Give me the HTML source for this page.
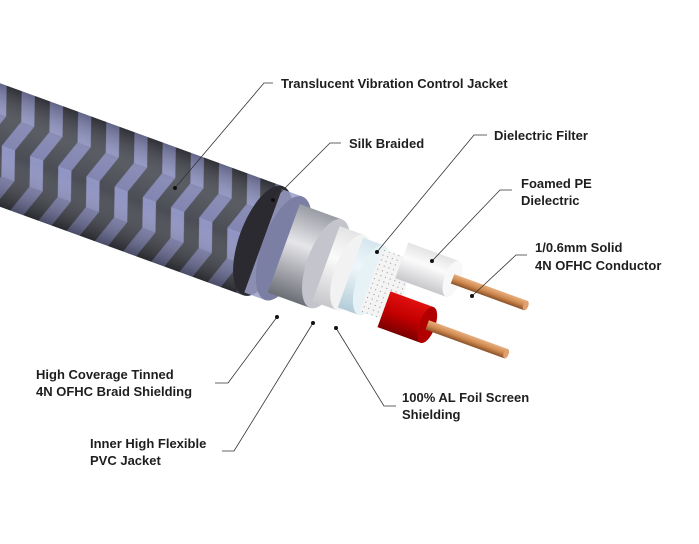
<!DOCTYPE html>
<html><head><meta charset="utf-8"><style>
html,body{margin:0;padding:0;background:#fff;}
svg{display:block}
text{font-family:"Liberation Sans",sans-serif;font-weight:bold;font-size:13px;fill:#1e1e1e}
</style></head><body>
<svg width="699" height="544" viewBox="0 0 699 544" xmlns="http://www.w3.org/2000/svg">
<defs>
<pattern id="weave" width="30" height="58" patternUnits="userSpaceOnUse">
<rect width="30" height="58" fill="#44464f"/>
<polygon points="2,0 16,0 26,29 12,29" fill="#8c90c0"/>
<polygon points="12,29 26,29 16,58 2,58" fill="#7a7eac"/>
</pattern>
<linearGradient id="shade" x1="0" y1="0" x2="0" y2="1">
<stop offset="0" stop-color="#000" stop-opacity="0.3"/>
<stop offset="0.3" stop-color="#fff" stop-opacity="0.12"/>
<stop offset="0.55" stop-color="#fff" stop-opacity="0.04"/>
<stop offset="1" stop-color="#000" stop-opacity="0.4"/>
</linearGradient>
<linearGradient id="silver" x1="0" y1="0" x2="0" y2="1">
<stop offset="0" stop-color="#9a9ca4"/><stop offset="0.4" stop-color="#e6e6ea"/><stop offset="1" stop-color="#6c6e76"/>
</linearGradient>
<linearGradient id="white" x1="0" y1="0" x2="0" y2="1">
<stop offset="0" stop-color="#e4e4e4"/><stop offset="0.4" stop-color="#fbfbfb"/><stop offset="1" stop-color="#c8c8cc"/>
</linearGradient>
<linearGradient id="blue" x1="0" y1="0" x2="0" y2="1">
<stop offset="0" stop-color="#d6e6ee"/><stop offset="0.4" stop-color="#eef8fc"/><stop offset="1" stop-color="#b4ccd8"/>
</linearGradient>
<linearGradient id="red" x1="0" y1="0" x2="0" y2="1">
<stop offset="0" stop-color="#e01010"/><stop offset="0.5" stop-color="#c40000"/><stop offset="1" stop-color="#7a0000"/>
</linearGradient>
<linearGradient id="cu" x1="0" y1="0" x2="0" y2="1">
<stop offset="0" stop-color="#e8b080"/><stop offset="0.5" stop-color="#d08a50"/><stop offset="1" stop-color="#8a5028"/>
</linearGradient>
<pattern id="dots" width="5" height="5" patternUnits="userSpaceOnUse">
<rect width="5" height="5" fill="#f4f4f4"/><circle cx="2.5" cy="2.5" r="0.6" fill="#999"/>
</pattern>
</defs>

<g transform="translate(0,145) rotate(20)">
<!-- jacket -->
<rect x="-80" y="-58" width="360" height="116" fill="url(#weave)"/>
<rect x="-80" y="-58" width="360" height="116" fill="url(#shade)"/>
<ellipse cx="280" cy="0" rx="24" ry="58" fill="#2a2a30"/>
<!-- silk translucent -->
<rect x="280" y="-55" width="22" height="110" fill="#9c9fc8" opacity="0.85"/>
<ellipse cx="302" cy="0" rx="22" ry="55" fill="#7c7fa4"/>
<!-- braid -->
<rect x="302" y="-47" width="45" height="94" fill="url(#silver)"/>
<ellipse cx="347" cy="0" rx="19" ry="47" fill="#c4c5cc"/>
<!-- white PVC -->
<rect x="347" y="-40" width="26" height="80" fill="url(#white)"/>
<ellipse cx="373" cy="0" rx="16" ry="40" fill="#f2f2f2"/>
<!-- foil -->
<rect x="373" y="-37" width="22" height="74" fill="url(#blue)"/>
<ellipse cx="395" cy="0" rx="14" ry="37" fill="#e6f2f6"/>
<!-- dielectric filter -->
<rect x="395" y="-33" width="22" height="66" fill="url(#dots)"/>
<ellipse cx="417" cy="0" rx="13" ry="33" fill="url(#dots)"/>
<!-- white core -->
<rect x="417" y="-48" width="54" height="38" fill="url(#white)"/>
<ellipse cx="471" cy="-29" rx="8" ry="19" fill="#f8f8f8"/>
<rect x="471" y="-34" width="78" height="10" fill="url(#cu)"/>
<ellipse cx="549" cy="-29" rx="2.5" ry="5" fill="#e0a070"/>
<!-- red core -->
<rect x="417" y="4" width="46" height="38" fill="url(#red)"/>
<ellipse cx="463" cy="23" rx="8" ry="19" fill="#b00000"/>
<rect x="463" y="18" width="84" height="10" fill="url(#cu)"/>
<ellipse cx="547" cy="23" rx="2.5" ry="5" fill="#e0a070"/>
</g>

<!-- leaders -->
<g stroke="#333" stroke-width="0.8" fill="none">
<polyline points="273,83 264,83 175,188"/>
<polyline points="341,143 330,143 273,200"/>
<polyline points="487,135 474,135 377,252"/>
<polyline points="512,190 500,190 432,261"/>
<polyline points="527,255 516,255 472,296"/>
<polyline points="215,383 228,383 277,317"/>
<polyline points="222,451 234,451 313,323"/>
<polyline points="396,406 384,406 336,328"/>
</g>
<g fill="#111">
<circle cx="175" cy="188" r="2"/><circle cx="273" cy="200" r="2"/><circle cx="377" cy="252" r="2"/>
<circle cx="432" cy="261" r="2"/><circle cx="472" cy="296" r="2"/><circle cx="277" cy="317" r="2"/>
<circle cx="313" cy="323" r="2"/><circle cx="336" cy="328" r="2"/>
</g>

<text x="281" y="88">Translucent Vibration Control Jacket</text>
<text x="349" y="148">Silk Braided</text>
<text x="494" y="140">Dielectric Filter</text>
<text x="521" y="188">Foamed PE</text>
<text x="521" y="205">Dielectric</text>
<text x="535" y="252">1/0.6mm Solid</text>
<text x="535" y="270">4N OFHC Conductor</text>
<text x="36" y="379">High Coverage Tinned</text>
<text x="36" y="396">4N OFHC Braid Shielding</text>
<text x="402" y="402">100% AL Foil Screen</text>
<text x="402" y="419">Shielding</text>
<text x="90" y="448">Inner High Flexible</text>
<text x="90" y="465">PVC Jacket</text>
</svg>
</body></html>
